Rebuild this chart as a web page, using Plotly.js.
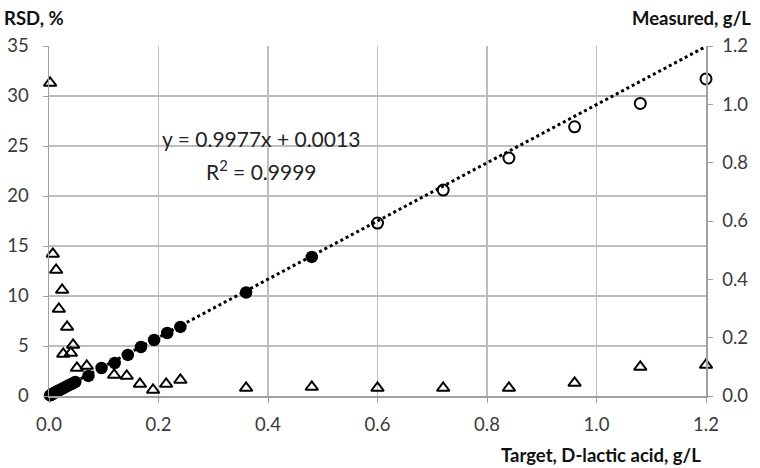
<!DOCTYPE html>
<html>
<head>
<meta charset="utf-8">
<script src="https://cdn.plot.ly/plotly-3.0.1.min.js"></script>
<style>
  body { margin: 0; background: #fff; }
  #chart { width: 760px; height: 468px; }
</style>
</head>
<body>
<div id="chart"></div>
<script>
"use strict";
// target concentration (g/L) and RSD (%) of replicate measurements
var rsdTarget = [0.002, 0.007, 0.013, 0.018, 0.024, 0.026, 0.033, 0.040, 0.044, 0.051, 0.069,
  0.119, 0.142, 0.166, 0.190, 0.214, 0.240, 0.36, 0.48, 0.60, 0.72, 0.84, 0.96, 1.08, 1.20];
var rsdValue = [31.3, 14.2, 12.6, 8.7, 10.6, 4.2, 6.9, 4.3, 5.1, 2.8, 3.0,
  2.1, 2.0, 1.2, 0.6, 1.2, 1.6, 0.8, 0.9, 0.8, 0.8, 0.8, 1.3, 2.9, 3.1];

// linear range (filled) - measured vs target
var linTarget = [0.002, 0.004, 0.006, 0.009, 0.012, 0.015, 0.018, 0.024, 0.030, 0.036, 0.042, 0.048,
  0.072, 0.096, 0.120, 0.144, 0.168, 0.192, 0.216, 0.240, 0.36, 0.48];
var linMeasured = [0.002, 0.004, 0.007, 0.010, 0.013, 0.016, 0.019, 0.025, 0.031, 0.037, 0.042, 0.048,
  0.069, 0.096, 0.113, 0.141, 0.168, 0.192, 0.216, 0.237, 0.355, 0.477];

// above linear range (open)
var highTarget = [0.60, 0.72, 0.84, 0.96, 1.08, 1.20];
var highMeasured = [0.593, 0.706, 0.816, 0.923, 1.003, 1.087];

// trend line y = 0.9977x + 0.0013
var trendX = [0, 1.2];
var trendY = [0.0013, 1.1985];

var font = "Lato, 'Open Sans', sans-serif";

var traces = [
  {
    x: rsdTarget, y: rsdValue, type: 'scatter', mode: 'markers', yaxis: 'y',
    marker: {symbol: 'triangle-up-open', size: 11, color: '#000', line: {width: 2, color: '#000'}},
    cliponaxis: false
  },
  {
    x: trendX, y: trendY, type: 'scatter', mode: 'lines', yaxis: 'y2',
    line: {color: '#000', width: 3, dash: '3px,3px'}
  },
  {
    x: linTarget, y: linMeasured, type: 'scatter', mode: 'markers', yaxis: 'y2',
    marker: {symbol: 'circle', size: 12.5, color: '#000'}, cliponaxis: false
  },
  {
    x: highTarget, y: highMeasured, type: 'scatter', mode: 'markers', yaxis: 'y2',
    marker: {symbol: 'circle-open', size: 11, color: '#000', line: {width: 2, color: '#000'}},
    cliponaxis: false
  }
];

var tickFont = {family: font, size: 18.5, color: '#3a3a3a'};
var titleFont = {family: font, size: 18.5, color: '#111'};

var layout = {
  width: 760, height: 468,
  margin: {l: 49, r: 54, t: 46, b: 72},
  paper_bgcolor: '#fff', plot_bgcolor: '#fff',
  showlegend: false,
  font: {family: font},
  xaxis: {
    range: [0, 1.2], dtick: 0.2, tickformat: '.1f',
    showgrid: true, gridcolor: '#bdbdbd', gridwidth: 1.5,
    showline: true, linecolor: '#a0a0a0', linewidth: 1.5,
    ticks: 'outside', ticklen: 5, tickcolor: '#a0a0a0',
    ticklabelstandoff: 6,
    tickfont: tickFont, zeroline: false
  },
  yaxis: {
    range: [0, 35], dtick: 5,
    showgrid: true, gridcolor: '#bdbdbd', gridwidth: 1.5,
    showline: true, linecolor: '#a0a0a0', linewidth: 1.5,
    ticks: 'outside', ticklen: 5, tickcolor: '#a0a0a0',
    ticklabelstandoff: 10,
    tickfont: tickFont, zeroline: false
  },
  yaxis2: {
    overlaying: 'y', side: 'right',
    range: [0, 1.2], dtick: 0.2, tickformat: '.1f',
    showgrid: false,
    showline: true, linecolor: '#a0a0a0', linewidth: 1.5,
    ticks: 'outside', ticklen: 5, tickcolor: '#a0a0a0',
    ticklabelstandoff: 6,
    tickfont: tickFont, zeroline: false
  },
  annotations: [
    {xref: 'paper', yref: 'paper', x: -0.071, y: 1.08, xanchor: 'left', yanchor: 'middle',
      text: '<b>RSD, %</b>', showarrow: false, font: titleFont},
    {xref: 'paper', yref: 'paper', x: 1.072, y: 1.08, xanchor: 'right', yanchor: 'middle',
      text: '<b>Measured, g/L</b>', showarrow: false, font: titleFont},
    {xref: 'paper', yref: 'paper', x: 0.995, y: -0.168, xanchor: 'right', yanchor: 'middle',
      text: '<b>Target, D-lactic acid, g/L</b>', showarrow: false, font: titleFont},
    {xref: 'x', yref: 'y', x: 0.388, y: 25.8, xanchor: 'center', yanchor: 'middle',
      text: 'y = 0.9977x + 0.0013', showarrow: false, font: {family: font, size: 21, color: '#222'}},
    {xref: 'x', yref: 'y', x: 0.388, y: 22.6, xanchor: 'center', yanchor: 'middle',
      text: 'R<sup>2</sup> = 0.9999', showarrow: false, font: {family: font, size: 21, color: '#222'}}
  ]
};

Plotly.newPlot('chart', traces, layout, {staticPlot: true});
</script>
</body>
</html>
